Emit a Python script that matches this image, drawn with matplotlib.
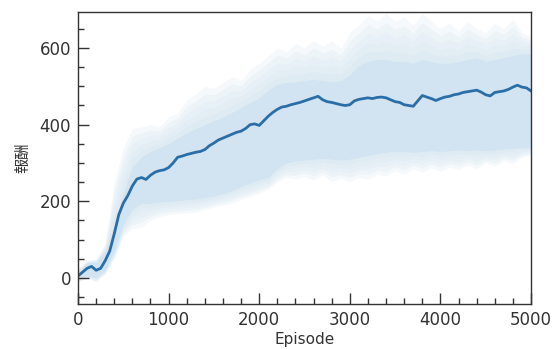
import numpy as np
import matplotlib
matplotlib.use('Agg')
import matplotlib.pyplot as plt
from matplotlib.ticker import MultipleLocator

plt.rcParams['font.family'] = ['DejaVu Sans', 'Noto Sans CJK JP']

# 平均報酬 (50 episode 間隔)
ep_mean = np.arange(0, 5001, 50)
reward_mean = [5, 15, 25, 30, 20, 25, 45, 70, 115, 165,
               195, 215, 240, 258, 262, 257, 268, 276, 280, 282,
               288, 300, 315, 318, 322, 325, 328, 330, 335, 345,
               352, 360, 365, 370, 375, 380, 383, 390, 400, 402,
               398, 410, 422, 432, 440, 446, 448, 452, 455, 458,
               462, 466, 470, 474, 465, 460, 458, 455, 452, 450,
               452, 462, 466, 468, 470, 468, 471, 472, 470, 465,
               460, 458, 452, 450, 448, 462, 476, 472, 468, 463,
               468, 472, 474, 478, 480, 484, 486, 488, 490, 485,
               478, 475, 484, 486, 488, 492, 498, 503, 498, 496,
               488]

# ばらつきの範囲 (100 episode 間隔)
ep_band = np.arange(0, 5001, 100)
inner_lo = [-5, 5, 0, 20, 70, 140, 180, 195, 195, 198,
            200, 202, 204, 206, 210, 214, 220, 228, 238, 248,
            256, 262, 285, 300, 305, 308, 310, 312, 310, 308,
            310, 315, 320, 325, 328, 330, 330, 328, 330, 332,
            330, 332, 334, 332, 334, 332, 334, 336, 338, 340,
            340]
inner_hi = [15, 40, 40, 70, 140, 220, 290, 316, 330, 340,
            350, 365, 378, 390, 400, 410, 420, 432, 445, 458,
            470, 490, 505, 510, 512, 515, 518, 515, 512, 515,
            530, 555, 565, 570, 570, 565, 565, 560, 570, 565,
            560, 560, 565, 570, 575, 565, 570, 575, 580, 585,
            585]
outer_lo = [-10, 0, -10, 10, 50, 110, 128, 133, 150, 160,
            165, 168, 170, 172, 178, 185, 190, 195, 205, 212,
            221, 232, 250, 262, 258, 265, 255, 268, 252, 260,
            250, 262, 258, 270, 266, 280, 270, 285, 276, 288,
            278, 290, 282, 295, 285, 300, 292, 305, 298, 315,
            320]
outer_hi = [25, 45, 50, 90, 250, 340, 390, 394, 400, 395,
            420, 430, 465, 480, 500, 495, 510, 525, 515, 545,
            560, 580, 600, 590, 612, 600, 620, 605, 618, 600,
            640, 660, 685, 670, 690, 670, 680, 660, 690, 670,
            650, 665, 645, 670, 650, 640, 665, 650, 675, 640,
            630]

fig = plt.figure(figsize=(5.54, 3.49), dpi=100)
ax = fig.add_axes([0.1408, 0.129, 0.8177, 0.8366])

band_color = '#d2e4f1'
inner_lo_a = np.array(inner_lo, dtype=float)
inner_hi_a = np.array(inner_hi, dtype=float)
outer_lo_a = np.array(outer_lo, dtype=float)
outer_hi_a = np.array(outer_hi, dtype=float)
# soft fade from the core band out to the extremes
for f in np.linspace(0.2, 1.0, 5):
    ax.fill_between(ep_band, inner_lo_a + f * (outer_lo_a - inner_lo_a),
                    inner_hi_a + f * (outer_hi_a - inner_hi_a),
                    color=band_color, alpha=0.22, lw=0)
ax.fill_between(ep_band, inner_lo, inner_hi, color=band_color, alpha=1.0, lw=0)
ax.plot(ep_mean, reward_mean, color='#2a6ea8', lw=2.0)

ax.set_xlim(0, 5000)
ax.set_ylim(-68, 694)
ax.xaxis.set_major_locator(MultipleLocator(1000))
ax.xaxis.set_minor_locator(MultipleLocator(200))
ax.yaxis.set_major_locator(MultipleLocator(200))
ax.yaxis.set_minor_locator(MultipleLocator(50))
ax.tick_params(which='major', direction='in', length=8, width=1, labelsize=12,
               top=False, right=False, pad=5, labelcolor='#333333', color='#333333')
ax.tick_params(which='minor', direction='in', length=4, width=1,
               top=False, right=False, color='#333333')
for sp in ax.spines.values():
    sp.set_linewidth(1.0)
    sp.set_color('#333333')

ax.set_xlabel('Episode', fontsize=11, labelpad=2, color='#333333')
ax.set_ylabel('報酬', fontsize=11, labelpad=6, color='#333333',
              family=['Noto Sans CJK JP', 'DejaVu Sans'])

fig.savefig('out.png', dpi=100)
